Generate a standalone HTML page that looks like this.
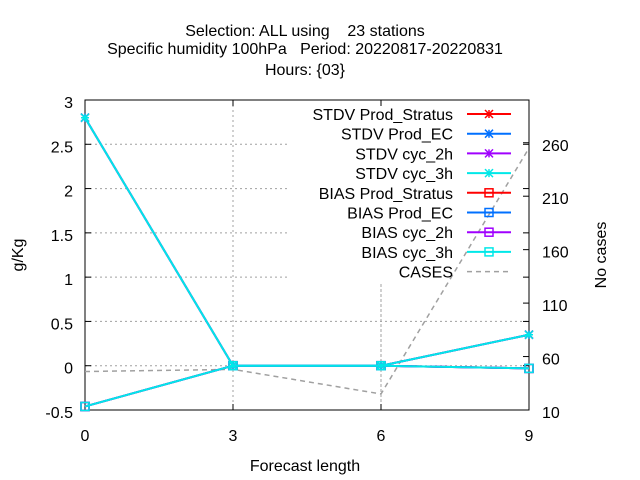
<!DOCTYPE html>
<html><head><meta charset="utf-8"><style>
body{margin:0;background:#fff}
svg{display:block;font-family:"Liberation Sans",sans-serif;font-size:16px}
</style></head><body>
<svg id="c" width="640" height="480">
<g text-anchor="middle">
<text x="305" y="36" xml:space="preserve">Selection: ALL using    23 stations</text>
<text x="305" y="54" xml:space="preserve">Specific humidity 100hPa   Period: 20220817-20220831</text>
<text x="305" y="75">Hours: {03}</text>
</g>
<g id="grid"></g>
<g id="axes"></g>
<g id="series"></g>
<g id="legend"></g>
<text x="305" y="471" text-anchor="middle">Forecast length</text>
<text transform="translate(23,255) rotate(-90)" text-anchor="middle">g/Kg</text>
<text transform="translate(606,255) rotate(-90)" text-anchor="middle">No cases</text>
</svg>
<script>
const xCats=[0,3,6,9];
const yTicks=[-0.5,0,0.5,1,1.5,2,2.5,3];
const y2Ticks=[10,60,110,160,210,260];
const stdvVals=[2.8,0,0,0.35];
const biasVals=[-0.46,0,0,-0.03];
const casesVals=[46,48,25,255];
const names=["Prod_Stratus","Prod_EC","cyc_2h","cyc_3h"];
const colors=["#ff0000","#0070ff","#a000ff","#00e8e8"];
const L=85,R=529,T=100,B=410;
const NS="http://www.w3.org/2000/svg";
const X=v=>L+(v-0)/(9-0)*(R-L);
const Y=v=>B-(v+0.5)/3.5*(B-T);
const Y2=v=>B-(v-10)/290*(B-T);
function mk(p,tag,a){const e=document.createElementNS(NS,tag);for(const k in a)e.setAttribute(k,a[k]);p.appendChild(e);return e;}
const g=document.getElementById('grid'),ax=document.getElementById('axes'),s=document.getElementById('series'),lg=document.getElementById('legend');
yTicks.forEach(t=>{if(t>-0.5&&t<3){const l=mk(g,'line',{x1:L,x2:R,y1:Y(t),y2:Y(t),stroke:'#a0a0a0','stroke-dasharray':'2,3'});

}
const tl=mk(ax,'text',{x:L-12,y:Y(t)+8,'text-anchor':'end'});tl.textContent=t;


mk(ax,'line',{x1:L,x2:L+6,y1:Y(t),y2:Y(t),stroke:'#000'});mk(ax,'line',{x1:R,x2:R-6,y1:Y(t),y2:Y(t),stroke:'#000'});});
xCats.forEach(c=>{if(c>0&&c<9){const l=mk(g,'line',{x1:X(c),x2:X(c),y1:T,y2:B,stroke:'#a0a0a0','stroke-dasharray':'2,3'});

}
const tl=mk(ax,'text',{x:X(c),y:B+31,'text-anchor':'middle'});tl.textContent=c;


mk(ax,'line',{x1:X(c),x2:X(c),y1:B,y2:B-6,stroke:'#000'});mk(ax,'line',{x1:X(c),x2:X(c),y1:T,y2:T+6,stroke:'#000'});});
y2Ticks.forEach(t=>{const tl=mk(ax,'text',{x:R+13,y:Y2(t)+8});tl.textContent=t;


mk(ax,'line',{x1:R,x2:R-6,y1:Y2(t),y2:Y2(t),stroke:'#000'});});
mk(g,'rect',{x:288,y:101,width:240,height:183,fill:'#fff'});
mk(g,'line',{x1:X(6),x2:X(6),y1:284,y2:B,stroke:'#a0a0a0','stroke-dasharray':'2,3'});
const box=mk(ax,'rect',{x:L,y:T,width:R-L,height:B-T,fill:'none',stroke:'#000'});


function star(p,x,y,c){mk(p,'path',{d:`M${x-4},${y-4}L${x+4},${y+4}M${x-4},${y+4}L${x+4},${y-4}M${x-4},${y}L${x+4},${y}M${x},${y-4}L${x},${y+4}`,stroke:c,'stroke-width':1.5});}
function sq(p,x,y,c){mk(p,'rect',{x:x-4,y:y-4,width:8,height:8,fill:'none',stroke:c,'stroke-width':1.5});}
const cp=mk(s,'polyline',{points:casesVals.map((v,i)=>X(xCats[i])+','+Y2(v)).join(' '),fill:'none',stroke:'#a0a0a0','stroke-width':1.5,'stroke-dasharray':'5,4'});


names.forEach((n,k)=>{
 [[stdvVals,star,'stdv'],[biasVals,sq,'bias']].forEach(([vals,m,pre])=>{
  const pl=mk(s,'polyline',{points:vals.map((v,i)=>X(xCats[i])+','+Y(v)).join(' '),fill:'none',stroke:colors[k],'stroke-width':2});
  
  
  vals.forEach((v,i)=>m(s,X(xCats[i]),Y(v),colors[k]));
 });
});
const entries=[];
names.forEach((n,k)=>entries.push(['STDV '+n,colors[k],star]));
names.forEach((n,k)=>entries.push(['BIAS '+n,colors[k],sq]));
entries.push(['CASES','#a0a0a0',null]);
entries.forEach((e,i)=>{const y=114+i*19.7;
 const t=mk(lg,'text',{x:453,y:y+6,'text-anchor':'end'});t.textContent=e[0];
 
 
 if(e[2]){mk(lg,'line',{x1:467,x2:511,y1:y,y2:y,stroke:e[1],'stroke-width':2});e[2](lg,489,y,e[1]);}
 else mk(lg,'line',{x1:467,x2:511,y1:y,y2:y,stroke:e[1],'stroke-width':1.5,'stroke-dasharray':'5,4'});
});
</script>
</body></html>
